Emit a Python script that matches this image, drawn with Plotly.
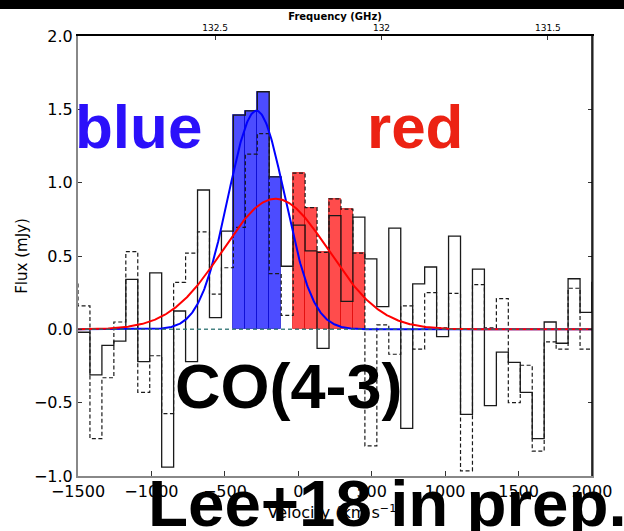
import numpy as np
import plotly.graph_objects as go

# ---- data ----
VEL_EDGES = [-1581.4, -1500.0, -1418.6, -1337.2, -1255.8, -1174.4, -1093.0, -1011.6, -930.2, -848.8,
             -767.4, -686.0, -604.7, -523.3, -441.9, -360.5, -279.1, -197.7, -116.3, -34.9,
             46.5, 127.9, 209.3, 290.7, 372.1, 453.5, 534.9, 616.3, 697.7, 779.1,
             860.5, 941.9, 1023.3, 1104.7, 1186.0, 1267.4, 1348.8, 1430.2, 1511.6, 1593.0,
             1674.4, 1755.8, 1837.2, 1918.6, 2000.0, 2081.4]
FLUX_SOLID = [-0.02, -0.02, -0.31, -0.11, -0.08, 0.34, -0.22, 0.385, -0.94, 0.125,
              -0.22, 0.95, 0.08, 0.67, 1.46, 1.49, 1.62, 1.04, 0.43, 0.71,
              0.535, -0.13, 0.775, 0.19, 0.765, 0.48, 0.155, 0.69, -0.675, 0.31,
              0.425, -0.05, 0.635, -0.58, 0.41, -0.52, -0.155, -0.225, -0.43, -0.745,
              0.05, -0.095, 0.345, 0.115, 0.32]
FLUX_DASHED = [0.32, 0.16, -0.745, -0.33, 0.05, 0.53, -0.43, -0.18, -0.575, 0.32,
               0.52, 0.665, 0.24, 0.42, 0.695, 1.195, 1.335, 0.38, 0.095, 1.065,
               0.83, 0.525, 0.89, 0.82, 0.52, -0.795, 0.03, -0.17, 0.16, -0.135,
               0.25, 0.01, 0.245, -0.965, 0.305, 0.01, 0.21, -0.5, -0.245, -0.83,
               -0.085, -0.135, 0.28, -0.135, -0.135]
BLUE_BINS = [14, 15, 16, 17]          # indices into channel arrays (filled from solid spectrum)
RED_BINS = [19, 20, 21, 22, 23, 24]   # filled from dashed spectrum
BLUE_FIT = dict(amp=1.49, cen=-285.0, sig=193.0)
RED_FIT = dict(amp=0.89, cen=-155.0, sig=360.0)
F0_GHZ = 132.25
FREQ_TICKS = [132.5, 132.0, 131.5]
FREQ_LABELS = ["132.5", "132", "131.5"]
X_TICKS = [-1500, -1000, -500, 0, 500, 1000, 1500, 2000]
Y_TICKS = [-1.0, -0.5, 0.0, 0.5, 1.0, 1.5, 2.0]

C_KMS = 299792.458
edges = np.array(VEL_EDGES)
centers = 0.5 * (edges[:-1] + edges[1:])
widths = edges[1:] - edges[:-1]

fig = go.Figure()

# filled bars
fig.add_trace(go.Bar(x=centers[BLUE_BINS], y=[FLUX_SOLID[i] for i in BLUE_BINS],
                     width=widths[BLUE_BINS],
                     marker=dict(color="rgba(0,0,255,0.7)", line=dict(color="rgba(0,0,200,0.6)", width=1)),
                     showlegend=False, hoverinfo="skip"))
fig.add_trace(go.Bar(x=centers[RED_BINS], y=[FLUX_DASHED[i] for i in RED_BINS],
                     width=widths[RED_BINS],
                     marker=dict(color="rgba(255,0,0,0.7)", line=dict(color="rgba(220,0,0,0.6)", width=1)),
                     showlegend=False, hoverinfo="skip"))

# step spectra
fig.add_trace(go.Scatter(x=edges, y=FLUX_SOLID + [FLUX_SOLID[-1]], mode="lines",
                         line=dict(shape="hv", color="#1a1a1a", width=1.3),
                         showlegend=False, hoverinfo="skip"))
fig.add_trace(go.Scatter(x=edges, y=FLUX_DASHED + [FLUX_DASHED[-1]], mode="lines",
                         line=dict(shape="hv", color="#1a1a1a", width=1.2, dash="4px,2.5px"),
                         showlegend=False, hoverinfo="skip"))

# gaussian fits
vgrid = np.linspace(-1500, 2000, 701)
def gauss(p):
    return p["amp"] * np.exp(-0.5 * ((vgrid - p["cen"]) / p["sig"]) ** 2)
fig.add_trace(go.Scatter(x=vgrid, y=gauss(BLUE_FIT), mode="lines",
                         line=dict(color="#0000ff", width=2), showlegend=False, hoverinfo="skip"))
fig.add_trace(go.Scatter(x=vgrid, y=gauss(RED_FIT), mode="lines",
                         line=dict(color="#ff0000", width=2), showlegend=False, hoverinfo="skip"))
# zero line
fig.add_trace(go.Scatter(x=[-1500, 2000], y=[0, 0], mode="lines",
                         line=dict(color="rgba(40,110,110,0.85)", width=1.5, dash="4px,3px"),
                         showlegend=False, hoverinfo="skip"))
# dummy trace on top frequency axis
fig.add_trace(go.Scatter(x=FREQ_TICKS, y=[None] * len(FREQ_TICKS), xaxis="x2", mode="lines",
                         showlegend=False, hoverinfo="skip"))

f_left = F0_GHZ * (1 + 1500 / C_KMS)
f_right = F0_GHZ * (1 - 2000 / C_KMS)

tickfont = dict(family="DejaVu Sans", size=16, color="black")
fig.update_layout(
    width=624, height=531,
    margin=dict(l=78, r=28, t=36, b=54),
    paper_bgcolor="white", plot_bgcolor="white",
    barmode="overlay", bargap=0,
    xaxis=dict(range=[-1500, 2000], tickvals=X_TICKS,
               ticktext=[str(v).replace("-", "\u2212") for v in X_TICKS],
               ticks="inside", ticklen=5, tickcolor="#333", tickfont=tickfont,
               showline=True, linecolor="#888", linewidth=2, mirror=False,
               showgrid=False, zeroline=False,
               title=dict(text="Velocity (km s<sup>\u22121</sup>)", font=dict(family="DejaVu Sans", size=16, color="black"), standoff=7)),
    xaxis2=dict(overlaying="x", side="top", anchor="y", range=[f_left, f_right],
                tickvals=FREQ_TICKS, ticktext=FREQ_LABELS, ticks="inside", ticklen=4, tickcolor="#333",
                tickfont=dict(family="DejaVu Sans", size=9, color="black"),
                showline=True, linecolor="black", linewidth=1.5, showgrid=False, zeroline=False,
                title=dict(text="<b>Frequency (GHz)</b>", font=dict(family="DejaVu Sans", size=10, color="black"), standoff=0)),
    yaxis=dict(range=[-1.0, 2.0], tickvals=Y_TICKS,
               ticktext=[("%.1f" % v).replace("-", "\u2212") for v in Y_TICKS],
               ticks="inside", ticklen=4, tickcolor="#333", tickfont=tickfont,
               showline=True, linecolor="#888", linewidth=2, mirror="ticks",
               showgrid=False, zeroline=False,
               title=dict(text="Flux (mJy)", font=dict(family="DejaVu Sans", size=15, color="black"), standoff=3)),
)

# right spine black
fig.add_shape(type="line", xref="paper", yref="paper", x0=1, x1=1, y0=0, y1=1,
              line=dict(color="black", width=1.5), layer="above")
# black band at top of image
fig.add_shape(type="rect", xref="paper", yref="paper", x0=-0.2, x1=1.1, y0=1 + 27 / 441, y1=1 + 40 / 441,
              fillcolor="black", line=dict(width=0), layer="above")

big = "Liberation Sans"
fig.add_annotation(text="<b>blue</b>", xref="paper", yref="paper", x=0.0, y=0.7937, xshift=-5,
                   xanchor="left", yanchor="middle", showarrow=False,
                   font=dict(family=big, size=62, color="#2b10fa"))
fig.add_annotation(text="<b>red</b>", xref="paper", yref="paper", x=0.5598, y=0.7937, xshift=-1,
                   xanchor="left", yanchor="middle", showarrow=False,
                   font=dict(family=big, size=62, color="#ec2213"))
fig.add_annotation(text="<b>CO(4-3)</b>", xref="paper", yref="paper", x=(177 - 78) / 518, y=0.2052, xshift=-3,
                   xanchor="left", yanchor="middle", showarrow=False,
                   font=dict(family=big, size=63, color="black"))
fig.add_annotation(text="<b>Lee+18 in prep.</b>", xref="paper", yref="paper", x=(148 - 78) / 518, y=-0.062, xshift=-1,
                   xanchor="left", yanchor="middle", showarrow=False,
                   font=dict(family=big, size=65.5, color="black"))

fig.write_html("out.html")
